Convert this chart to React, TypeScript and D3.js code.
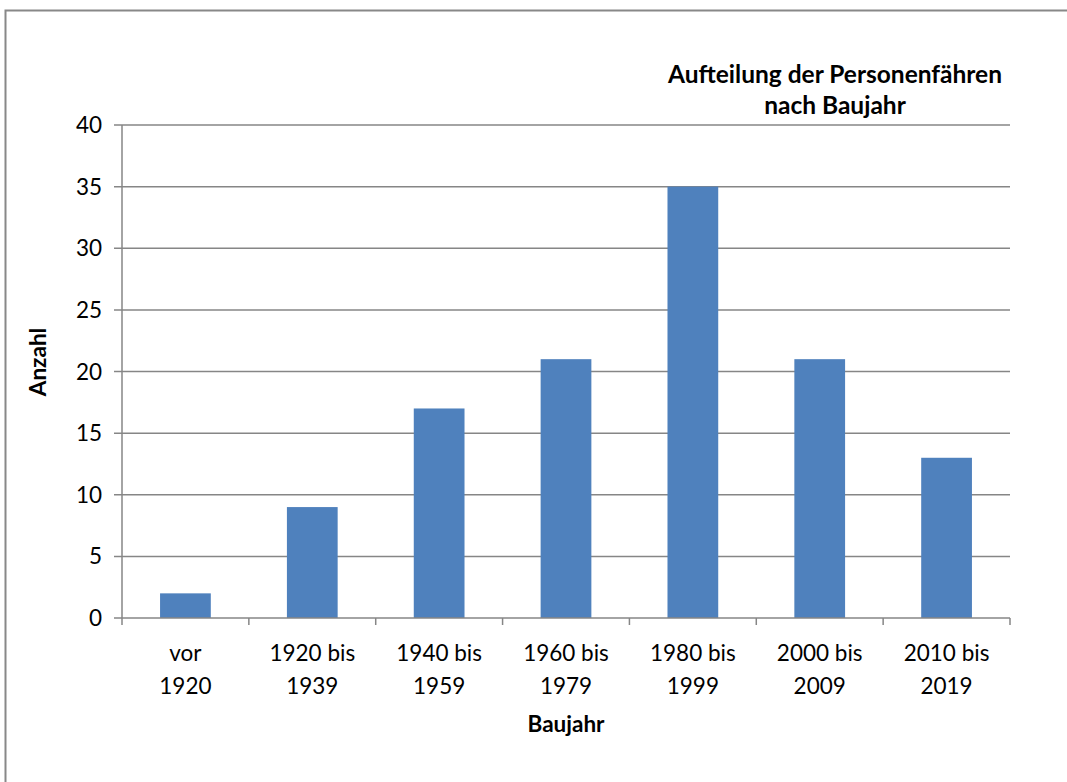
import React from "react";
import * as d3 from "d3";

const categoriesLine1 = ["vor", "1920 bis", "1940 bis", "1960 bis", "1980 bis", "2000 bis", "2010 bis"];
const categoriesLine2 = ["1920", "1939", "1959", "1979", "1999", "2009", "2019"];
const values = [2, 9, 17, 21, 35, 21, 13];
const yTicks = [0, 5, 10, 15, 20, 25, 30, 35, 40];
const titleLines = ["Aufteilung der Personenfähren", "nach Baujahr"];

const W = 1067;
const H = 782;
const left = 122;
const right = 1010;
const top = 125;
const bottom = 618;
const font = "Lato, 'Open Sans', sans-serif";

export default function App() {
  const keys = categoriesLine1.map((_, i) => String(i));
  const x = d3.scaleBand<string>().domain(keys).range([left, right]).paddingInner(0.6).paddingOuter(0.3);
  const xb = d3.scaleBand<string>().domain(keys).range([left, right]);
  const y = d3.scaleLinear().domain([0, 40]).range([bottom, top]);
  const grid = "#868686";
  return (
    <svg width={W} height={H} style={{ position: "absolute", left: 0, top: 0, background: "#fff" }}>
      <rect x={5.5} y={10.5} width={W + 10} height={H + 10} fill="none" stroke="#888" strokeWidth={2} />
      {yTicks.map((t) => (
        <g key={t}>
          {t > 0 && <line x1={left - 8} x2={right} y1={y(t)} y2={y(t)} stroke={grid} strokeWidth={1.5} />}
          <text x={102} y={y(t) + 8} textAnchor="end" fontFamily={font} fontSize={22.5} fill="#000">{t}</text>
        </g>
      ))}
      {values.map((v, i) => (
        <rect key={i} x={x(String(i))} y={y(v)} width={x.bandwidth()} height={y(0) - y(v)} fill="#4F81BD" />
      ))}
      <line x1={left} x2={left} y1={top} y2={bottom} stroke={grid} strokeWidth={1.5} />
      <line x1={left - 8} x2={right} y1={bottom} y2={bottom} stroke={grid} strokeWidth={1.5} />
      {keys.map((k) => (
        <line key={k} x1={xb(k)} x2={xb(k)} y1={bottom} y2={bottom + 7} stroke={grid} strokeWidth={1.5} />
      ))}
      <line x1={right} x2={right} y1={bottom} y2={bottom + 7} stroke={grid} strokeWidth={1.5} />
      {keys.map((k, i) => (
        <text key={k} x={(xb(k) as number) + xb.bandwidth() / 2} textAnchor="middle" fontFamily={font} fontSize={22.5} fill="#000">
          <tspan x={(xb(k) as number) + xb.bandwidth() / 2} y={661}>{categoriesLine1[i]}</tspan>
          <tspan x={(xb(k) as number) + xb.bandwidth() / 2} y={694}>{categoriesLine2[i]}</tspan>
        </text>
      ))}
      <text x={566} y={732} textAnchor="middle" fontFamily={font} fontSize={22.5} fontWeight="bold">Baujahr</text>
      <text transform={`translate(46,362) rotate(-90)`} textAnchor="middle" fontFamily={font} fontSize={22.5} fontWeight="bold">Anzahl</text>
      {titleLines.map((l, i) => (
        <text key={i} x={835} y={83 + i * 31} textAnchor="middle" fontFamily={font} fontSize={24.5} fontWeight="bold">{l}</text>
      ))}
    </svg>
  );
}
